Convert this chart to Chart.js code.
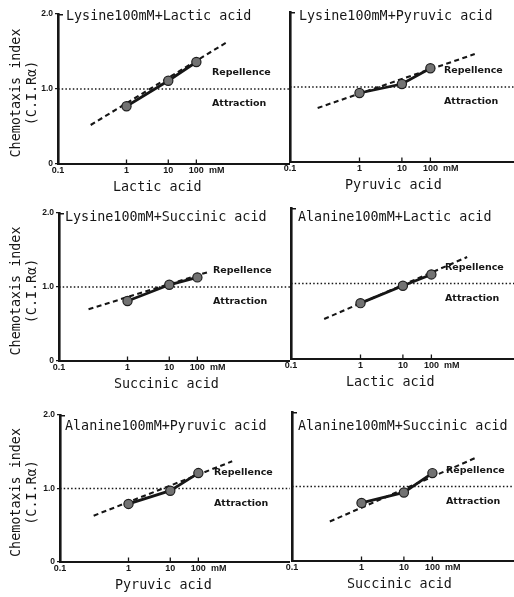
<!DOCTYPE html>
<html>
<head>
<meta charset="utf-8">
<script src="https://cdn.jsdelivr.net/npm/chart.js@4/dist/chart.umd.min.js"></script>
<style>
  html, body { margin: 0; padding: 0; background: #fff; }
  body { width: 514px; height: 597px; position: relative; overflow: hidden; }
  canvas { position: absolute; }
</style>
</head>
<body>
<script>
// ---------------- data ----------------
const PANEL_TITLES = [
  'Lysine100mM+Lactic acid', 'Lysine100mM+Pyruvic acid',
  'Lysine100mM+Succinic acid', 'Alanine100mM+Lactic acid',
  'Alanine100mM+Pyruvic acid', 'Alanine100mM+Succinic acid'
];
const ACID_NAMES = ['Lactic acid', 'Pyruvic acid', 'Succinic acid', 'Lactic acid', 'Pyruvic acid', 'Succinic acid'];
const Y_TITLE_LINES = ['Chemotaxis index', '(C.I.R\u03b1)'];
const ZONE_LABELS = ['Repellence', 'Attraction'];

const CONCENTRATIONS = [1, 10, 100];              // mM
const X_TICK_VALUES = [0.1, 1, 10, 100];
const X_TICK_LABELS = ['0.1', '1', '10', '100'];
const X_UNIT = 'mM';
const Y_TICK_VALUES = [0, 1, 2];
const Y_TICK_LABELS = ['0', '1.0', '2.0'];
const REFERENCE_CI = 1.0;

// chemotaxis index at 1, 10, 100 mM
const CI_LYS_LAC = [0.77, 1.11, 1.36];
const CI_LYS_PYR = [0.92, 1.04, 1.25];
const CI_LYS_SUC = [0.81, 1.03, 1.13];
const CI_ALA_LAC = [0.74, 0.97, 1.12];
const CI_ALA_PYR = [0.79, 0.97, 1.21];
const CI_ALA_SUC = [0.78, 0.92, 1.18];

// extended (dashed) regression lines: end points [concentration], [index]
const FIT_CONC_LYS_LAC = [0.3, 1300];  const FIT_CI_LYS_LAC = [0.52, 1.63];
const FIT_CONC_LYS_PYR = [0.25, 3600]; const FIT_CI_LYS_PYR = [0.72, 1.44];
const FIT_CONC_LYS_SUC = [0.27, 280];  const FIT_CI_LYS_SUC = [0.70, 1.21];
const FIT_CONC_ALA_LAC = [0.3, 1800];  const FIT_CI_ALA_LAC = [0.53, 1.35];
const FIT_CONC_ALA_PYR = [0.31, 1600]; const FIT_CI_ALA_PYR = [0.63, 1.37];
const FIT_CONC_ALA_SUC = [0.35, 3100]; const FIT_CI_ALA_SUC = [0.53, 1.38];

const SERIES = [
  { ci: CI_LYS_LAC, fitX: FIT_CONC_LYS_LAC, fitY: FIT_CI_LYS_LAC },
  { ci: CI_LYS_PYR, fitX: FIT_CONC_LYS_PYR, fitY: FIT_CI_LYS_PYR },
  { ci: CI_LYS_SUC, fitX: FIT_CONC_LYS_SUC, fitY: FIT_CI_LYS_SUC },
  { ci: CI_ALA_LAC, fitX: FIT_CONC_ALA_LAC, fitY: FIT_CI_ALA_LAC },
  { ci: CI_ALA_PYR, fitX: FIT_CONC_ALA_PYR, fitY: FIT_CI_ALA_PYR },
  { ci: CI_ALA_SUC, fitX: FIT_CONC_ALA_SUC, fitY: FIT_CI_ALA_SUC }
];

// ---------------- axis transform of the original figure ----------------
// the printed concentration axis is not evenly spaced per decade:
// 0.1->1, 1->10, 10->100 get shrinking widths (beyond 100 the last width repeats)
const DECADE_SPAN = [1, 0.61, 0.41];
function warp(c) {
  let u = Math.log10(c / 0.1), w = 0, i = 0;
  while (u > 0) {
    const step = Math.min(u, 1);
    w += step * DECADE_SPAN[Math.min(i, DECADE_SPAN.length - 1)];
    u -= step; i++;
  }
  return w;
}

// ---------------- layout / style ----------------
const INK = '#161616';
const MONO = '13.4px "DejaVu Sans Mono"';
const TICK_FONT = { family: '"Liberation Sans", Arial, sans-serif', size: 9, weight: 'bold' };
const YTICK_FONT = { family: '"Liberation Sans", Arial, sans-serif', size: 8.5, weight: 'bold' };
const ZONE_FONT = 'bold 9.5px "DejaVu Sans"';
const PAD_TOP = 10, X_AXIS_H = 42, RIGHT_Y_W = 40;

const LAYOUT = [
  { axisX: 58,  top: 14,  bottom: 164, right: 290, pxPerW: 68.5, titleDx: 8, titleDy: 3,  leftCol: true },
  { axisX: 290, top: 12,  bottom: 162, right: 514, pxPerW: 69.5, titleDx: 9, titleDy: 5 },
  { axisX: 59,  top: 213, bottom: 361, right: 290, pxPerW: 68.5, titleDx: 6, titleDy: 5,  leftCol: true },
  { axisX: 291, top: 208, bottom: 359, right: 514, pxPerW: 69.5, titleDx: 7, titleDy: 10 },
  { axisX: 60,  top: 415, bottom: 562, right: 290, pxPerW: 68.5, titleDx: 5, titleDy: 12, leftCol: true },
  { axisX: 292, top: 412, bottom: 561, right: 514, pxPerW: 69.5, titleDx: 6, titleDy: 15 }
];

const decor = {
  id: 'decor',
  afterDraw(chart, args, o) {
    const { ctx, chartArea: a, scales: { x, y } } = chart;
    ctx.save();
    ctx.fillStyle = INK; ctx.strokeStyle = INK;
    // short stub at the top of the y axis
    ctx.lineWidth = 1.5;
    ctx.beginPath(); ctx.moveTo(a.left, a.top + 0.75); ctx.lineTo(a.left + 5, a.top + 0.75); ctx.stroke();
    // tick marks pointing up from the x axis
    ctx.lineWidth = 1.3;
    X_TICK_VALUES.slice(1).forEach(v => {
      const px = x.getPixelForValue(warp(v));
      ctx.beginPath(); ctx.moveTo(px, a.bottom); ctx.lineTo(px, a.bottom - 4.5); ctx.stroke();
    });
    // unit after the last tick label
    const tf = `${TICK_FONT.weight} ${TICK_FONT.size}px ${TICK_FONT.family}`;
    ctx.font = tf; ctx.textAlign = 'left'; ctx.textBaseline = 'middle';
    const last = X_TICK_VALUES[X_TICK_VALUES.length - 1];
    const pLast = x.getPixelForValue(warp(last));
    const wLast = ctx.measureText(X_TICK_LABELS[X_TICK_LABELS.length - 1]).width;
    ctx.fillText(X_UNIT, pLast + wLast / 2 + 5, a.bottom + 1 + TICK_FONT.size * 1.2 / 2);
    // x-axis title
    ctx.font = MONO; ctx.textAlign = 'left'; ctx.textBaseline = 'middle';
    ctx.fillText(o.xTitle, a.left + 55, a.bottom + 24);
    // panel title
    ctx.fillText(o.title, a.left + o.titleDx, a.top + o.titleDy);
    // zone labels
    ctx.font = ZONE_FONT;
    const yRef = y.getPixelForValue(REFERENCE_CI);
    ctx.fillText(ZONE_LABELS[0], a.left + 154, yRef - 16);
    ctx.fillText(ZONE_LABELS[1], a.left + 154, yRef + 15);
    // y-axis title (left column only)
    if (o.yTitle) {
      ctx.font = MONO; ctx.textAlign = 'center'; ctx.textBaseline = 'middle';
      const cy = (a.top + a.bottom) / 2 + 4;
      Y_TITLE_LINES.forEach((t, i) => {
        ctx.save();
        ctx.translate(17 + i * 16, cy);
        ctx.rotate(-Math.PI / 2);
        ctx.fillText(t, 0, 0);
        ctx.restore();
      });
    }
    ctx.restore();
  }
};

LAYOUT.forEach((L, i) => {
  const cv = document.createElement('canvas');
  const left = L.leftCol ? 0 : L.axisX - RIGHT_Y_W;
  const top = L.top - PAD_TOP;
  const w = L.right - left;
  const h = (L.bottom - L.top) + PAD_TOP + X_AXIS_H;
  cv.width = w; cv.height = h;
  cv.style.left = left + 'px'; cv.style.top = top + 'px';
  cv.style.width = w + 'px'; cv.style.height = h + 'px';
  document.body.appendChild(cv);

  const s = SERIES[i];
  const xMax = (L.right - L.axisX) / L.pxPerW;
  const yAxisWidth = L.leftCol ? L.axisX : RIGHT_Y_W;

  new Chart(cv, {
    type: 'line',
    data: {
      datasets: [
        {
          data: CONCENTRATIONS.map((c, k) => ({ x: warp(c), y: s.ci[k] })),
          borderColor: INK, borderWidth: 2.8,
          pointRadius: 4.6, pointBorderWidth: 1.2,
          pointBackgroundColor: '#727272', pointBorderColor: '#1e1e1e',
          tension: 0
        },
        {
          data: s.fitX.map((c, k) => ({ x: warp(c), y: s.fitY[k] })),
          borderColor: INK, borderWidth: 2.1, borderDash: [5, 3.5],
          pointRadius: 0, tension: 0
        },
        {
          data: [{ x: 0, y: REFERENCE_CI }, { x: xMax, y: REFERENCE_CI }],
          borderColor: INK, borderWidth: 1.6, borderDash: [1.5, 2.2],
          pointRadius: 0, tension: 0
        }
      ]
    },
    options: {
      responsive: false,
      animation: false,
      events: [],
      layout: { autoPadding: false, padding: { top: PAD_TOP, left: 0, right: 0, bottom: 0 } },
      plugins: {
        legend: { display: false },
        tooltip: { enabled: false },
        decor: {
          title: PANEL_TITLES[i], xTitle: ACID_NAMES[i],
          titleDx: L.titleDx, titleDy: L.titleDy, yTitle: !!L.leftCol
        }
      },
      scales: {
        x: {
          type: 'linear', min: 0, max: xMax,
          afterFit: sc => { sc.height = X_AXIS_H; },
          afterBuildTicks: sc => { sc.ticks = X_TICK_VALUES.map(v => ({ value: warp(v) })); },
          ticks: {
            callback: (v, k) => X_TICK_LABELS[k],
            autoSkip: false, maxRotation: 0, minRotation: 0,
            padding: 1, color: INK, font: TICK_FONT
          },
          grid: { display: false, drawTicks: false },
          border: { display: true, color: INK, width: 2 }
        },
        y: {
          type: 'linear', min: 0, max: 2,
          afterFit: sc => { sc.width = yAxisWidth; },
          afterBuildTicks: sc => { sc.ticks = Y_TICK_VALUES.map(v => ({ value: v })); },
          ticks: {
            display: !!L.leftCol,
            callback: (v, k) => Y_TICK_LABELS[k],
            padding: 2, color: INK, font: YTICK_FONT
          },
          grid: {
            display: !!L.leftCol, drawOnChartArea: false, drawTicks: true,
            tickLength: 3, color: INK, lineWidth: 1.2
          },
          border: { display: true, color: INK, width: 2.6 }
        }
      }
    },
    plugins: [decor]
  });
});
</script>
</body>
</html>
